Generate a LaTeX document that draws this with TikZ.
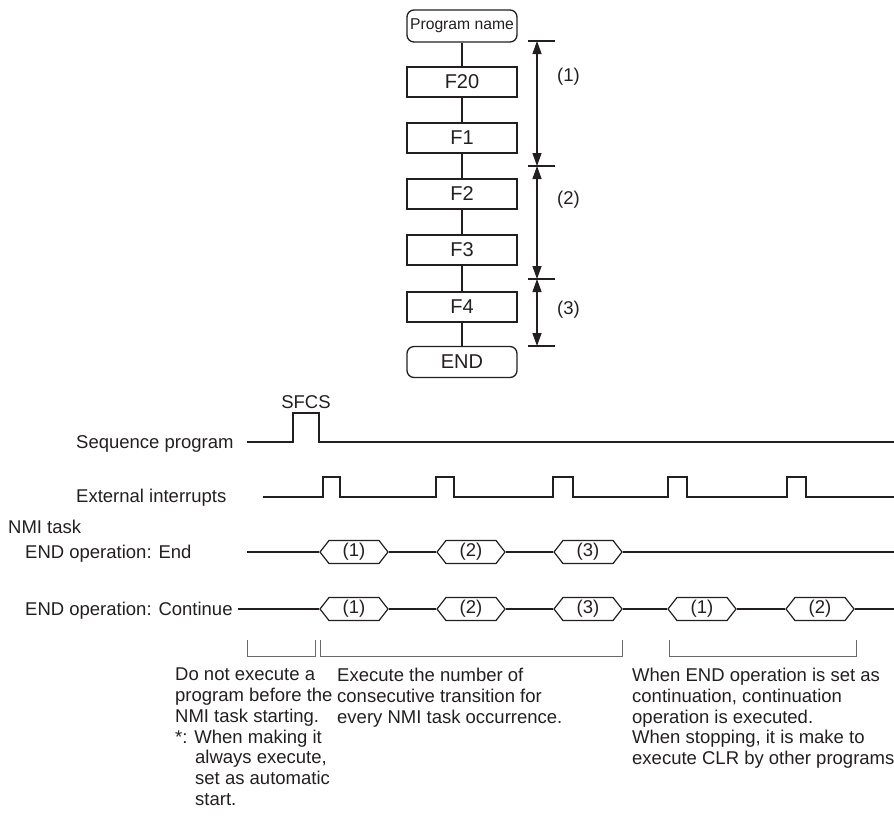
\documentclass[tikz,border=0pt]{standalone}
\usepackage{fontspec}
\setmainfont{Liberation Sans}
\usetikzlibrary{arrows.meta,shapes.symbols}
\definecolor{ink}{HTML}{231F20}
\definecolor{bgray}{HTML}{6A6A6A}
\begin{document}
\begin{tikzpicture}[x=1pt,y=-1pt,
  every node/.style={text=ink, inner sep=0pt},
  wire/.style={draw=ink, line width=1.3pt},
  fbox/.style={draw=ink, line width=1.3pt, minimum width=110pt, minimum height=30pt, font=\fontsize{20}{24}\selectfont},
  rbox/.style={fbox, rounded corners=7pt},
  lbl/.style={font=\fontsize{18.5}{20.7}\selectfont},
  hexa/.style={draw=ink, line width=1.2pt, signal, signal to=east and west, signal pointer angle=104, minimum width=68pt, minimum height=23pt, lbl},
  brk/.style={draw=bgray, line width=1pt},
  dimline/.style={draw=ink, line width=1.3pt, {Triangle[length=13pt,width=9pt]}-{Triangle[length=13pt,width=9pt]}}
]
\useasboundingbox (0,0) rectangle (894,815);

% ---------- flowchart ----------
\node[rbox, minimum height=32pt, font=\fontsize{15.7}{18}\selectfont] (pn) at (462,26) {Program name};
\node[fbox] (f20) at (462,82) {F20};
\node[fbox] (f1) at (462,138) {F1};
\node[fbox] (f2) at (462,194) {F2};
\node[fbox] (f3) at (462,250) {F3};
\node[fbox] (f4) at (462,307) {F4};
\node[rbox, minimum height=31pt] (end) at (462,362) {END};
\draw[wire] (pn) -- (f20);
\draw[wire] (f20) -- (f1);
\draw[wire] (f1) -- (f2);
\draw[wire] (f2) -- (f3);
\draw[wire] (f3) -- (f4);
\draw[wire] (f4) -- (end);

% dimension arrows
\coordinate (d0) at (537,41);
\coordinate (d1) at (537,166);
\coordinate (d2) at (537,279);
\coordinate (d3) at (537,346);
\foreach \c in {d0,d1,d2,d3}{\draw[wire] ([xshift=-9pt]\c) -- ([xshift=18pt]\c);}
\draw[dimline] (d0) -- (d1);
\draw[dimline] (d1) -- (d2);
\draw[dimline] (d2) -- (d3);
\node[lbl, anchor=west] (l1) at (557,77) {(1)};
\node[lbl, anchor=west] (l2) at (557,200) {(2)};
\node[lbl, anchor=west] (l3) at (557,310) {(3)};

% ---------- timing chart ----------
\node[lbl, anchor=base west] (sp) at (76,448) {Sequence program};
\node[lbl, anchor=base west] (ei) at (76,502) {External interrupts};
\node[lbl, anchor=base west] (nmi) at (8,533) {NMI task};
\node[lbl, anchor=base west] (eoe) at (25,558) {END operation: End};
\node[lbl, anchor=base west] (eoc) at (25,615) {END operation: Continue};
\node[lbl] (sfcs) at (306,402.5) {SFCS};

% sequence program waveform
\draw[wire] (247,442) -- (293,442) -- (293,413) -- (319,413) -- (319,442) -- (894,442);
% external interrupts waveform
\draw[wire] (263,497) -- (323,497) -- (323,477) -- (340,477) -- (340,497)
  -- (436,497) -- (436,477) -- (454,477) -- (454,497)
  -- (553,497) -- (553,477) -- (573,477) -- (573,497)
  -- (668,497) -- (668,477) -- (687,477) -- (687,497)
  -- (787,497) -- (787,477) -- (806,477) -- (806,497) -- (894,497);

% END operation: End
\coordinate (e0) at (247,552);
\coordinate (e9) at (894,552);
\node[hexa] (ea) at (354,552) {(1)};
\node[hexa] (eb) at (471,552) {(2)};
\node[hexa] (ec) at (588,552) {(3)};
\draw[wire, line width=1.2pt] (e0) -- (ea.west);
\draw[wire, line width=1.2pt] (ea.east) -- (eb.west);
\draw[wire, line width=1.2pt] (eb.east) -- (ec.west);
\draw[wire, line width=1.2pt] (ec.east) -- (e9);

% END operation: Continue
\coordinate (c0) at (238,609);
\coordinate (c9) at (894,609);
\node[hexa] (ca) at (354,609) {(1)};
\node[hexa] (cb) at (471,609) {(2)};
\node[hexa] (cc) at (588,609) {(3)};
\node[hexa] (cd) at (702,609) {(1)};
\node[hexa] (ce) at (820,609) {(2)};
\draw[wire, line width=1.2pt] (c0) -- (ca.west);
\draw[wire, line width=1.2pt] (ca.east) -- (cb.west);
\draw[wire, line width=1.2pt] (cb.east) -- (cc.west);
\draw[wire, line width=1.2pt] (cc.east) -- (cd.west);
\draw[wire, line width=1.2pt] (cd.east) -- (ce.west);
\draw[wire, line width=1.2pt] (ce.east) -- (c9);

% brackets
\draw[brk] (247,640) -- (247,656) -- (315,656) -- (315,640);
\draw[brk] (320,640) -- (320,656) -- (622,656) -- (622,640);
\draw[brk] (669,640) -- (669,656) -- (856,656) -- (856,640);

% explanations
\node[lbl, anchor=north west, align=left] (t1) at (175,668) {Do not execute a\\program before the\\NMI task starting.\\*: When making it\\\hspace*{20pt}always execute,\\\hspace*{20pt}set as automatic\\\hspace*{20pt}start.};
\node[lbl, anchor=north west, align=left] (t2) at (337,668) {Execute the number of\\consecutive transition for\\every NMI task occurrence.};
\node[lbl, anchor=north west, align=left] (t3) at (632,668) {When END operation is set as\\continuation, continuation\\operation is executed.\\When stopping, it is make to\\execute CLR by other programs};
\end{tikzpicture}
\end{document}
